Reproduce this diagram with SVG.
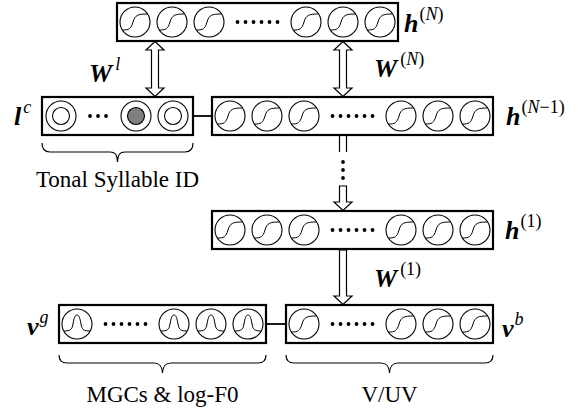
<svg xmlns="http://www.w3.org/2000/svg" xmlns:xlink="http://www.w3.org/1999/xlink" width="580" height="412" viewBox="0 0 580 412">
<style>
.box{fill:#fff;stroke:#000;stroke-width:2.2}
.c{fill:#fff;stroke:#000;stroke-width:1.1}
.g{fill:none;stroke:#000;stroke-width:1}
.dot{fill:#000}
.ln{fill:none;stroke:#000;stroke-width:1.8}
.arr{fill:#fff;stroke:#000;stroke-width:1.2}
.br{fill:none;stroke:#000;stroke-width:1.2}
.t{font-family:"Liberation Serif","Times New Roman",serif;font-size:23px;fill:#000}
.m{font-family:"Liberation Serif","Times New Roman",serif;font-size:26px;font-weight:bold;font-style:italic;fill:#000}
.s{font-size:18px;font-weight:normal;font-style:normal}
.i{font-style:italic}
</style>
<defs>
<g id="sig"><circle class="c" r="15"/><path class="g" d="M-12.5,8 C-6,8 -4,7 -2,0 C0,-7 3,-8 12.5,-8"/></g>
<g id="gau"><circle class="c" r="15"/><path class="g" d="M-13,7 C-7,7 -5,6 -4,0 C-3,-6 -2,-9 0,-9 C2,-9 3,-6 4,0 C5,6 7,7 13,7"/></g>
<g id="one"><circle class="c" r="15"/><circle class="c" r="8.5"/></g>
<g id="onf"><circle class="c" r="15"/><circle r="8.5" fill="#808080" stroke="#000" stroke-width="1.1"/></g>
<g id="d6"><circle class="dot" cx="-20" r="1.9"/><circle class="dot" cx="-12" r="1.9"/><circle class="dot" cx="-4" r="1.9"/><circle class="dot" cx="4" r="1.9"/><circle class="dot" cx="12" r="1.9"/><circle class="dot" cx="20" r="1.9"/></g>
</defs>

<g id="connectors">
<line class="ln" x1="193" y1="116" x2="212" y2="116"/>
<line class="ln" x1="266" y1="324" x2="286" y2="324"/>
<polygon class="arr" points="155,41.5 164,50 158.5,50 158.5,88 164,88 155,96.5 146,88 151.5,88 151.5,50 146,50"/>
<polygon class="arr" points="343,41.5 352,50 346.5,50 346.5,88 352,88 343,96.5 334,88 339.5,88 339.5,50 334,50"/>
<line x1="339.5" y1="136" x2="339.5" y2="152" stroke="#000" stroke-width="1.2"/>
<line x1="346.5" y1="136" x2="346.5" y2="152" stroke="#000" stroke-width="1.2"/>
<circle class="dot" cx="343" cy="162" r="1.9"/>
<circle class="dot" cx="343" cy="170" r="1.9"/>
<circle class="dot" cx="343" cy="178" r="1.9"/>
<polygon class="arr" points="339.5,186 346.5,186 346.5,202 352,202 343,210.5 334,202 339.5,202"/>
<polygon class="arr" points="339.5,250 346.5,250 346.5,296 352,296 343,304.5 334,296 339.5,296"/>
</g>

<g id="hN">
<rect class="box" x="117" y="3" width="281" height="38"/>
<use xlink:href="#sig" x="135" y="22"/><use xlink:href="#sig" x="172" y="22"/><use xlink:href="#sig" x="209" y="22"/>
<use xlink:href="#d6" x="257.5" y="22"/>
<use xlink:href="#sig" x="306" y="22"/><use xlink:href="#sig" x="343" y="22"/><use xlink:href="#sig" x="380" y="22"/>
<text class="m" x="404" y="32">h<tspan class="s" dx="1" dy="-12">(<tspan class="i">N</tspan>)</tspan></text>
</g>

<g id="lc">
<rect class="box" x="42" y="97" width="151" height="38"/>
<use xlink:href="#one" x="61" y="116"/>
<circle class="dot" cx="90" cy="116" r="1.9"/><circle class="dot" cx="98" cy="116" r="1.9"/><circle class="dot" cx="106" cy="116" r="1.9"/>
<use xlink:href="#onf" x="136" y="116"/><use xlink:href="#one" x="173" y="116"/>
<text class="m" x="14" y="125">l<tspan class="s i" dx="2" dy="-12">c</tspan></text>
<path class="br" d="M42,143 C42,150 45,152 50,152 L110,152 C115,152 117,154 117.5,162 C118,154 120,152 125,152 L185,152 C190,152 193,150 193,143"/>
<text class="t" x="117.5" y="187" text-anchor="middle">Tonal Syllable ID</text>
</g>

<g id="hN1">
<rect class="box" x="212" y="97" width="281" height="38"/>
<use xlink:href="#sig" x="230" y="116"/><use xlink:href="#sig" x="267" y="116"/><use xlink:href="#sig" x="304" y="116"/>
<use xlink:href="#d6" x="352.5" y="116"/>
<use xlink:href="#sig" x="401" y="116"/><use xlink:href="#sig" x="438" y="116"/><use xlink:href="#sig" x="475" y="116"/>
<text class="m" x="506" y="125">h<tspan class="s" dx="1" dy="-12">(<tspan class="i">N</tspan>−1)</tspan></text>
</g>

<g id="h1">
<rect class="box" x="212" y="211" width="281" height="38"/>
<use xlink:href="#sig" x="230" y="230"/><use xlink:href="#sig" x="267" y="230"/><use xlink:href="#sig" x="304" y="230"/>
<use xlink:href="#d6" x="352.5" y="230"/>
<use xlink:href="#sig" x="401" y="230"/><use xlink:href="#sig" x="438" y="230"/><use xlink:href="#sig" x="475" y="230"/>
<text class="m" x="505" y="239">h<tspan class="s" dx="1" dy="-12">(1)</tspan></text>
</g>

<g id="labelsW">
<text class="m" x="89" y="82">W<tspan class="s i" dx="3" dy="-12">l</tspan></text>
<text class="m" x="374" y="77">W<tspan class="s" dx="3" dy="-12">(<tspan class="i">N</tspan>)</tspan></text>
<text class="m" x="374" y="287">W<tspan class="s" dx="3" dy="-12">(1)</tspan></text>
</g>

<g id="vg">
<rect class="box" x="59" y="305" width="207" height="38"/>
<use xlink:href="#gau" x="77" y="324"/>
<use xlink:href="#d6" x="125.5" y="324"/>
<use xlink:href="#gau" x="174" y="324"/><use xlink:href="#gau" x="211" y="324"/><use xlink:href="#gau" x="248" y="324"/>
<text class="m" x="27" y="335">v<tspan class="s i" dx="1" dy="-12">g</tspan></text>
<path class="br" d="M59,355 C59,361 62,363 67,363 L154,363 C159,363 162,365 162.5,373 C163,365 166,363 171,363 L258,363 C263,363 266,361 266,355"/>
<text class="t" x="162.5" y="402" text-anchor="middle">MGCs &amp; log-F0</text>
</g>

<g id="vb">
<rect class="box" x="286" y="305" width="207" height="38"/>
<use xlink:href="#sig" x="304" y="324"/>
<use xlink:href="#d6" x="352.5" y="324"/>
<use xlink:href="#sig" x="401" y="324"/><use xlink:href="#sig" x="438" y="324"/><use xlink:href="#sig" x="475" y="324"/>
<text class="m" x="502" y="337">v<tspan class="s i" dx="1" dy="-12">b</tspan></text>
<path class="br" d="M286,355 C286,361 289,363 294,363 L381,363 C386,363 389,365 389.5,373 C390,365 393,363 398,363 L485,363 C490,363 493,361 493,355"/>
<text class="t" x="389.5" y="402" text-anchor="middle">V/UV</text>
</g>
</svg>
